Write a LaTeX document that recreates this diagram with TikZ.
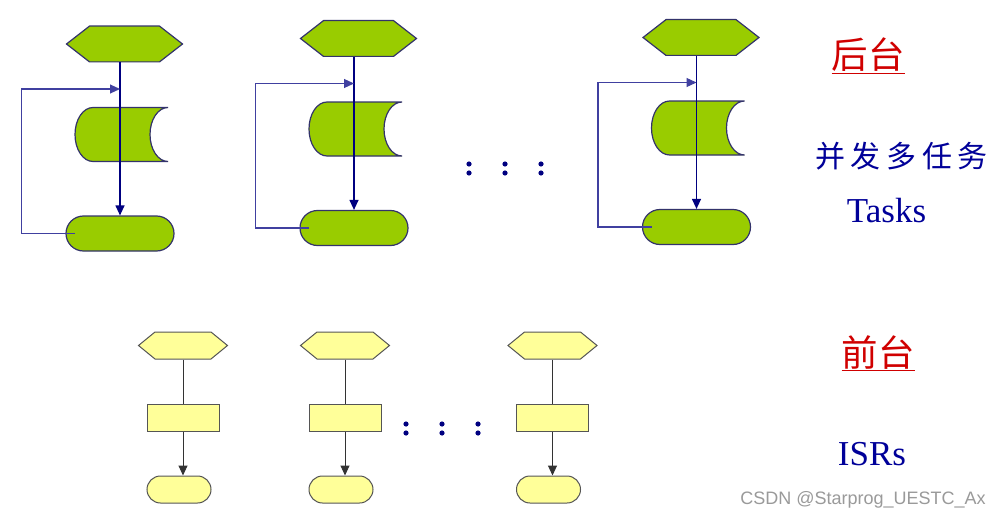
\documentclass[tikz,border=0pt]{standalone}
\usepackage{fontspec}
\setmainfont{Liberation Serif}
\newfontfamily\cjk{Noto Sans CJK SC}
\newfontfamily\cjkwide[LetterSpace=19]{Noto Sans CJK SC}
\newfontfamily\wmfont{Liberation Sans}
\usetikzlibrary{shapes.misc,arrows.meta}
\definecolor{gfill}{HTML}{99CC00}
\definecolor{gline}{HTML}{33336B}
\definecolor{navyc}{HTML}{000080}
\definecolor{yfill}{HTML}{FFFF99}
\definecolor{yline}{HTML}{555555}
\definecolor{redc}{HTML}{D00000}
\definecolor{bluec}{HTML}{000099}
\definecolor{wmc}{HTML}{9A9A9A}
\begin{document}
\begin{tikzpicture}[x=1pt,y=-1pt,
  ghex/.style={minimum width=118pt, minimum height=37pt, inner sep=0pt, outer sep=0pt,
    path picture={\filldraw[fill=gfill, draw=gline, line width=1.2pt]
      ([xshift=1pt]path picture bounding box.west)
      -- ([xshift=24pt,yshift=-0.6pt]path picture bounding box.north west)
      -- ([xshift=-24pt,yshift=-0.6pt]path picture bounding box.north east)
      -- ([xshift=-1pt]path picture bounding box.east)
      -- ([xshift=-24pt,yshift=0.6pt]path picture bounding box.south east)
      -- ([xshift=24pt,yshift=0.6pt]path picture bounding box.south west) -- cycle;}},
  yhex/.style={minimum width=91pt, minimum height=28pt, inner sep=0pt, outer sep=0pt,
    path picture={\filldraw[fill=yfill, draw=yline, line width=1pt]
      ([xshift=1pt]path picture bounding box.west)
      -- ([xshift=17.5pt,yshift=-0.5pt]path picture bounding box.north west)
      -- ([xshift=-17.5pt,yshift=-0.5pt]path picture bounding box.north east)
      -- ([xshift=-1pt]path picture bounding box.east)
      -- ([xshift=-17.5pt,yshift=0.5pt]path picture bounding box.south east)
      -- ([xshift=17.5pt,yshift=0.5pt]path picture bounding box.south west) -- cycle;}},
  gcyl/.style={fill=gfill, draw=gline, line width=1.2pt},
  gstad/.style={rounded rectangle, minimum width=108pt, minimum height=35pt, inner sep=0pt,
    fill=gfill, draw=gline, line width=1.2pt},
  ybox/.style={rectangle, minimum width=72pt, minimum height=27pt, inner sep=0pt,
    fill=yfill, draw=yline, line width=1pt},
  ystad/.style={rounded rectangle, minimum width=64pt, minimum height=27pt, inner sep=0pt,
    fill=yfill, draw=yline, line width=1pt},
  garr/.style={draw=navyc, line width=1.2pt, -{Triangle[length=10pt,width=9pt]}},
  gloop/.style={draw=navyc!75, line width=1.1pt, -{Triangle[length=10pt,width=9pt]}},
  yarr/.style={draw=black!80, line width=1pt, -{Triangle[length=10pt,width=9pt]}},
  yline/.style={draw=black!80, line width=1pt},
  dotc/.style={fill=navyc},
  cjktitle/.style={text=redc, font=\cjk\fontsize{36.5}{42}\selectfont, inner sep=0pt, anchor=base},
  bluetext/.style={text=bluec, font=\fontsize{35}{42}\selectfont, inner sep=0pt, anchor=base},
  cjkblue/.style={text=bluec, font=\cjkwide\fontsize{30}{36}\selectfont, inner sep=0pt, anchor=base},
  wmark/.style={text=wmc, font=\wmfont\fontsize{18}{22}\selectfont, inner sep=0pt, anchor=base}
]
\path[fill=white, use as bounding box] (0,0) rectangle (999,519);

% ---------- background tasks (green) ----------
\foreach \i/\L/\u in {1/120/0, 2/354/5.5, 3/696.5/6.5}{
  \node[ghex] (h\i) at (\L+4.5, 44-\u) {};
  \filldraw[gcyl] (\L+48, 107.5-\u) -- (\L-27, 107.5-\u)
     arc[start angle=90, end angle=270, x radius=18pt, y radius=27pt]
     -- (\L+48, 161.5-\u)
     arc[start angle=270, end angle=90, x radius=18pt, y radius=27pt] -- cycle;
  \node[gstad] (s\i) at (\L, 233.5-\u) {};
  \coordinate (j\i) at (\L, 89-\u);
  \draw[garr] (h\i.south -| s\i.north) -- (s\i.north);
  \draw[gloop] ([xshift=-45pt]s\i.center) -- ++(-53.5,0) |- (j\i);
}

% ---------- foreground ISRs (yellow) ----------
\foreach \i/\L in {1/183, 2/345, 3/552.5}{
  \node[yhex] (yh\i) at (\L, 345.5) {};
  \node[ybox] (yr\i) at (\L, 417.5) {};
  \node[ystad] (ys\i) at (\L-4, 489.5) {};
  \draw[yline] (yh\i.south) -- (yr\i.north);
  \draw[yarr] (yr\i.south) -- (yr\i.south |- ys\i.north);
}

% ---------- ellipsis dots ----------
\foreach \x in {469, 505, 541}{
  \fill[dotc] (\x,164) circle[radius=2.6pt];
  \fill[dotc] (\x,173) circle[radius=2.6pt];
}
\foreach \x in {406, 442, 478}{
  \fill[dotc] (\x,424) circle[radius=2.6pt];
  \fill[dotc] (\x,433) circle[radius=2.6pt];
}

% ---------- labels ----------
\node[cjktitle] (bgtitle) at (868,69) {\underline{后台}};
\node[cjkblue] (bgcn) at (901.5,167) {并发多任务};
\node[bluetext] (bgen) at (886.5,222) {Tasks};
\node[cjktitle] (fgtitle) at (878,366) {\underline{前台}};
\node[bluetext] (fgen) at (872,465) {ISRs};
\node[wmark] (wm) at (863,504) {CSDN @Starprog\_UESTC\_Ax};
\end{tikzpicture}
\end{document}
